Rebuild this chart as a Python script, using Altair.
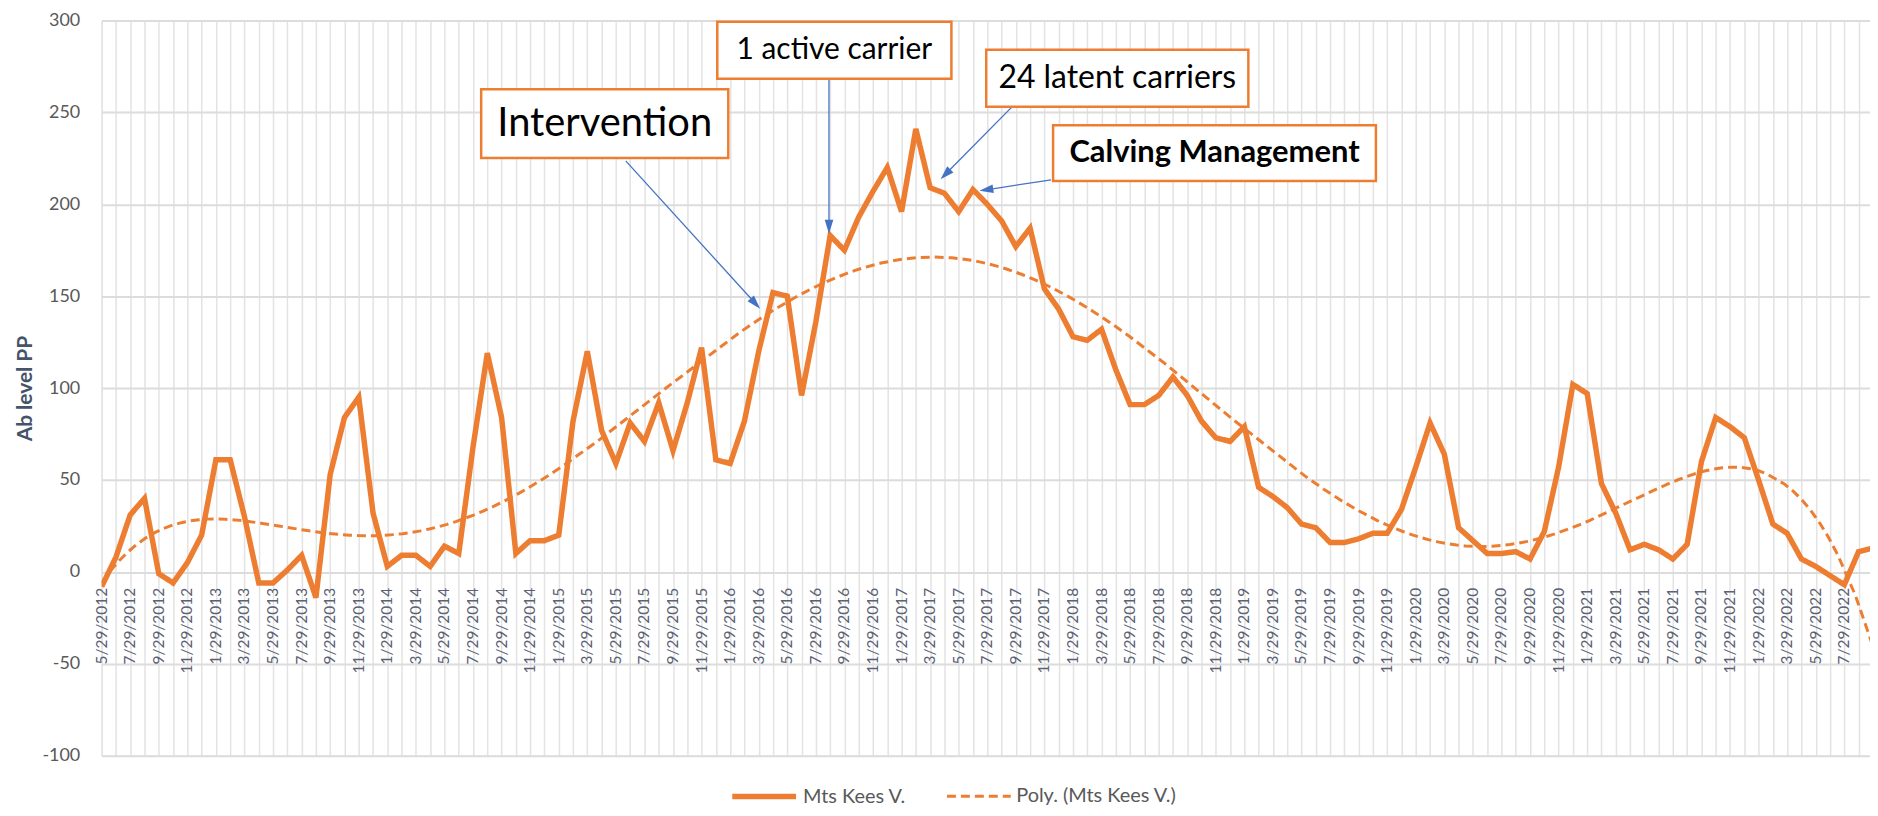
import json
import math
import altair as alt
import pandas as pd

# ---------------- data (monthly readings, first month 5/29/2012) ----------------
START_YEAR = 2012
START_MONTH = 5
values = [
    -8, 8, 31, 40, -1, -6, 5, 20, 61, 61,
    30, -6, -6, 1, 9, -14, 53, 84, 95, 32,
    3, 9, 9, 3, 14, 10, 68, 119, 84, 10,
    17, 17, 20, 82, 120, 77, 59, 81, 71, 92,
    66, 92, 122, 61, 59, 82, 120, 152, 150, 96,
    136, 183, 175, 193, 207, 220, 196, 241, 209, 206,
    196, 208, 200, 191, 177, 187, 154, 143, 128, 126,
    132, 110, 91, 91, 96, 106, 96, 82, 73, 71,
    79, 46, 41, 35, 26, 24, 16, 16, 18, 21,
    21, 34, 57, 81, 64, 24, 17, 10, 10, 11,
    7, 22, 57, 102, 97, 48, 32, 12, 15, 12,
    7, 15, 60, 84, 79, 73, 50, 26, 21, 7,
    3, -2, -7, 11, 13,
]
dates = []
for i in range(len(values)):
    k = START_MONTH - 1 + i
    dates.append(f"{k % 12 + 1}/29/{START_YEAR + k // 12}")

SERIES = ["Mts Kees V.", "Poly. (Mts Kees V.)"]
TREND_ORDER = 6

# annotation boxes (month index / value coordinates)
box_labels = ["Intervention", "1 active carrier", "24 latent carriers", "Calving Management"]
box_m0 = [26.57, 43.10, 61.93, 66.61]
box_m1 = [43.87, 59.49, 80.28, 89.21]
box_vtop = [262.6, 299.3, 284.0, 243.0]
box_vbot = [225.2, 268.3, 253.1, 212.7]
box_font_size = [40, 30, 32, 31]
box_bold = [False, False, False, True]

# arrows from boxes to the series
arrow_m_from = [36.69, 50.92, 63.75, 66.47]
arrow_v_from = [223.6, 268.3, 253.1, 213.3]
arrow_m_to = [46.10, 50.92, 58.73, 61.45]
arrow_v_to = [143.2, 184.0, 213.6, 207.3]

# ---------------- layout / style ----------------
ORANGE = "#ED7D31"
BLUE = "#4472C4"
AXIS_GREY = "#595959"
FONT = "Lato"
Y_MIN, Y_MAX = -100, 300
X_MAX = 123.8
PLOT_W, PLOT_H = 1775, 738
HEAD = 14

px_per_m = PLOT_W / X_MAX
px_per_v = PLOT_H / (Y_MAX - Y_MIN)

df = pd.DataFrame({"idx": list(range(len(values))), "date": dates,
                   "value": values, "series": SERIES[0]})
lab_df = df[(df.idx % 2 == 0) & (df.idx <= X_MAX)]

boxes = pd.DataFrame({
    "label": box_labels, "m0": box_m0, "m1": box_m1,
    "vt": box_vtop, "vb": box_vbot, "fs": box_font_size, "bold": box_bold,
})
boxes["mc"] = (boxes.m0 + boxes.m1) / 2
boxes["vc"] = (boxes.vt + boxes.vb) / 2

rows = []
for mf, vf, mt, vt in zip(arrow_m_from, arrow_v_from, arrow_m_to, arrow_v_to):
    dx = (mt - mf) * px_per_m
    dy = -(vt - vf) * px_per_v
    L = math.hypot(dx, dy)
    ux, uy = dx / L, dy / L
    hm = mt - ux * (HEAD / 2) / px_per_m
    hv = vt + uy * (HEAD / 2) / px_per_v
    ang = math.degrees(math.atan2(ux, -uy)) % 360
    rows.append({"mf": mf, "vf": vf, "hm": hm, "hv": hv, "ang": ang})
arrows = pd.DataFrame(rows)

xscale = alt.Scale(domain=[0, X_MAX], nice=False, zero=False)
yscale = alt.Scale(domain=[Y_MIN, Y_MAX], nice=False, zero=False)

x_axis = alt.Axis(
    values=list(range(0, 124)), grid=True, gridColor="#E3E3E3", gridWidth=1.5,
    labels=False, ticks=False, domain=False, title=None)
y_axis = alt.Axis(
    values=list(range(Y_MIN, Y_MAX + 1, 50)), grid=True, gridColor="#DCDCDC", gridWidth=2,
    ticks=False, domain=False, labelFont=FONT, labelFontSize=18, labelColor=AXIS_GREY,
    labelExpr="'' + datum.value",
    labelPadding=22, title="Ab level PP", titleFont=FONT, titleFontSize=21,
    titleFontWeight="bold", titleColor="#44546A", titleAngle=270, titleX=-76,
    titleY=PLOT_H / 2, titleAlign="center", titleBaseline="middle")


def X(field):
    return alt.X(field, scale=xscale, axis=x_axis)


def Y(field):
    return alt.Y(field, scale=yscale, axis=y_axis)


legend = alt.Legend(
    orient="none", legendX=630, legendY=744, direction="horizontal", title=None,
    symbolType="stroke", symbolSize=4096, labelFont=FONT, labelFontSize=20,
    labelColor=AXIS_GREY, labelLimit=400, columnPadding=34, labelOffset=4, padding=0,
)
enc_series = dict(
    color=alt.Color("series:N", scale=alt.Scale(domain=SERIES, range=[ORANGE, ORANGE]), legend=legend),
    strokeDash=alt.StrokeDash("series:N", scale=alt.Scale(domain=SERIES, range=[[1, 0], [9, 5]]), legend=legend),
    strokeWidth=alt.StrokeWidth("series:N", scale=alt.Scale(type="point", domain=SERIES, range=[5.5, 3], padding=0), legend=legend),
)

main = alt.Chart(df).mark_line(clip=True).encode(x=X("idx:Q"), y=Y("value:Q"), **enc_series)

trend = (
    alt.Chart(df)
    .transform_calculate(t="(datum.idx - 62) / 62")
    .transform_regression("t", "value", method="poly", order=TREND_ORDER)
    .transform_calculate(idx="datum.t * 62 + 62", series=f"'{SERIES[1]}'")
    .mark_line(clip=True)
    .encode(x=X("idx:Q"), y=Y("value:Q"), **enc_series)
)

xlabels = alt.Chart(lab_df).transform_calculate(zero="0").mark_text(
    angle=270, align="right", baseline="middle", dx=-16, font=FONT, fontSize=15.5,
    color="#5B6275",
).encode(x=X("idx:Q"), y=Y("zero:Q"), text="date:N")

rules = alt.Chart(arrows).mark_rule(color=BLUE, strokeWidth=1.3).encode(
    x=X("mf:Q"), x2="hm:Q", y=Y("vf:Q"), y2="hv:Q")

heads = alt.Chart(arrows).mark_point(
    shape="M0,-1L0.62,1L-0.62,1Z", filled=True, color=BLUE, opacity=1, size=HEAD * HEAD,
).encode(x=X("hm:Q"), y=Y("hv:Q"), angle=alt.Angle("ang:Q", scale=None))

rects = alt.Chart(boxes).mark_rect(fill="white", stroke=ORANGE, strokeWidth=2.5).encode(
    x=X("m0:Q"), x2="m1:Q", y=Y("vt:Q"), y2="vb:Q")

texts = alt.Chart(boxes).transform_filter("!datum.bold").mark_text(
    font=FONT, color="black", baseline="middle", align="center",
).encode(x=X("mc:Q"), y=Y("vc:Q"), text="label:N", size=alt.Size("fs:Q", scale=None))

texts_bold = alt.Chart(boxes).transform_filter("datum.bold").mark_text(
    font=FONT, color="black", baseline="middle", align="center", fontWeight="bold",
).encode(x=X("mc:Q"), y=Y("vc:Q"), text="label:N", size=alt.Size("fs:Q", scale=None))

chart = (
    alt.layer(main, trend, xlabels, rules, heads, rects, texts, texts_bold)
    .properties(width=PLOT_W, height=PLOT_H,
                autosize=alt.AutoSizeParams(type="none"),
                padding={"left": 94, "top": 11, "right": 0, "bottom": 51})
    .configure_view(stroke=None)
    .configure(background="white")
)

chart.save("out.html", embed_options={"renderer": "svg", "actions": False})
